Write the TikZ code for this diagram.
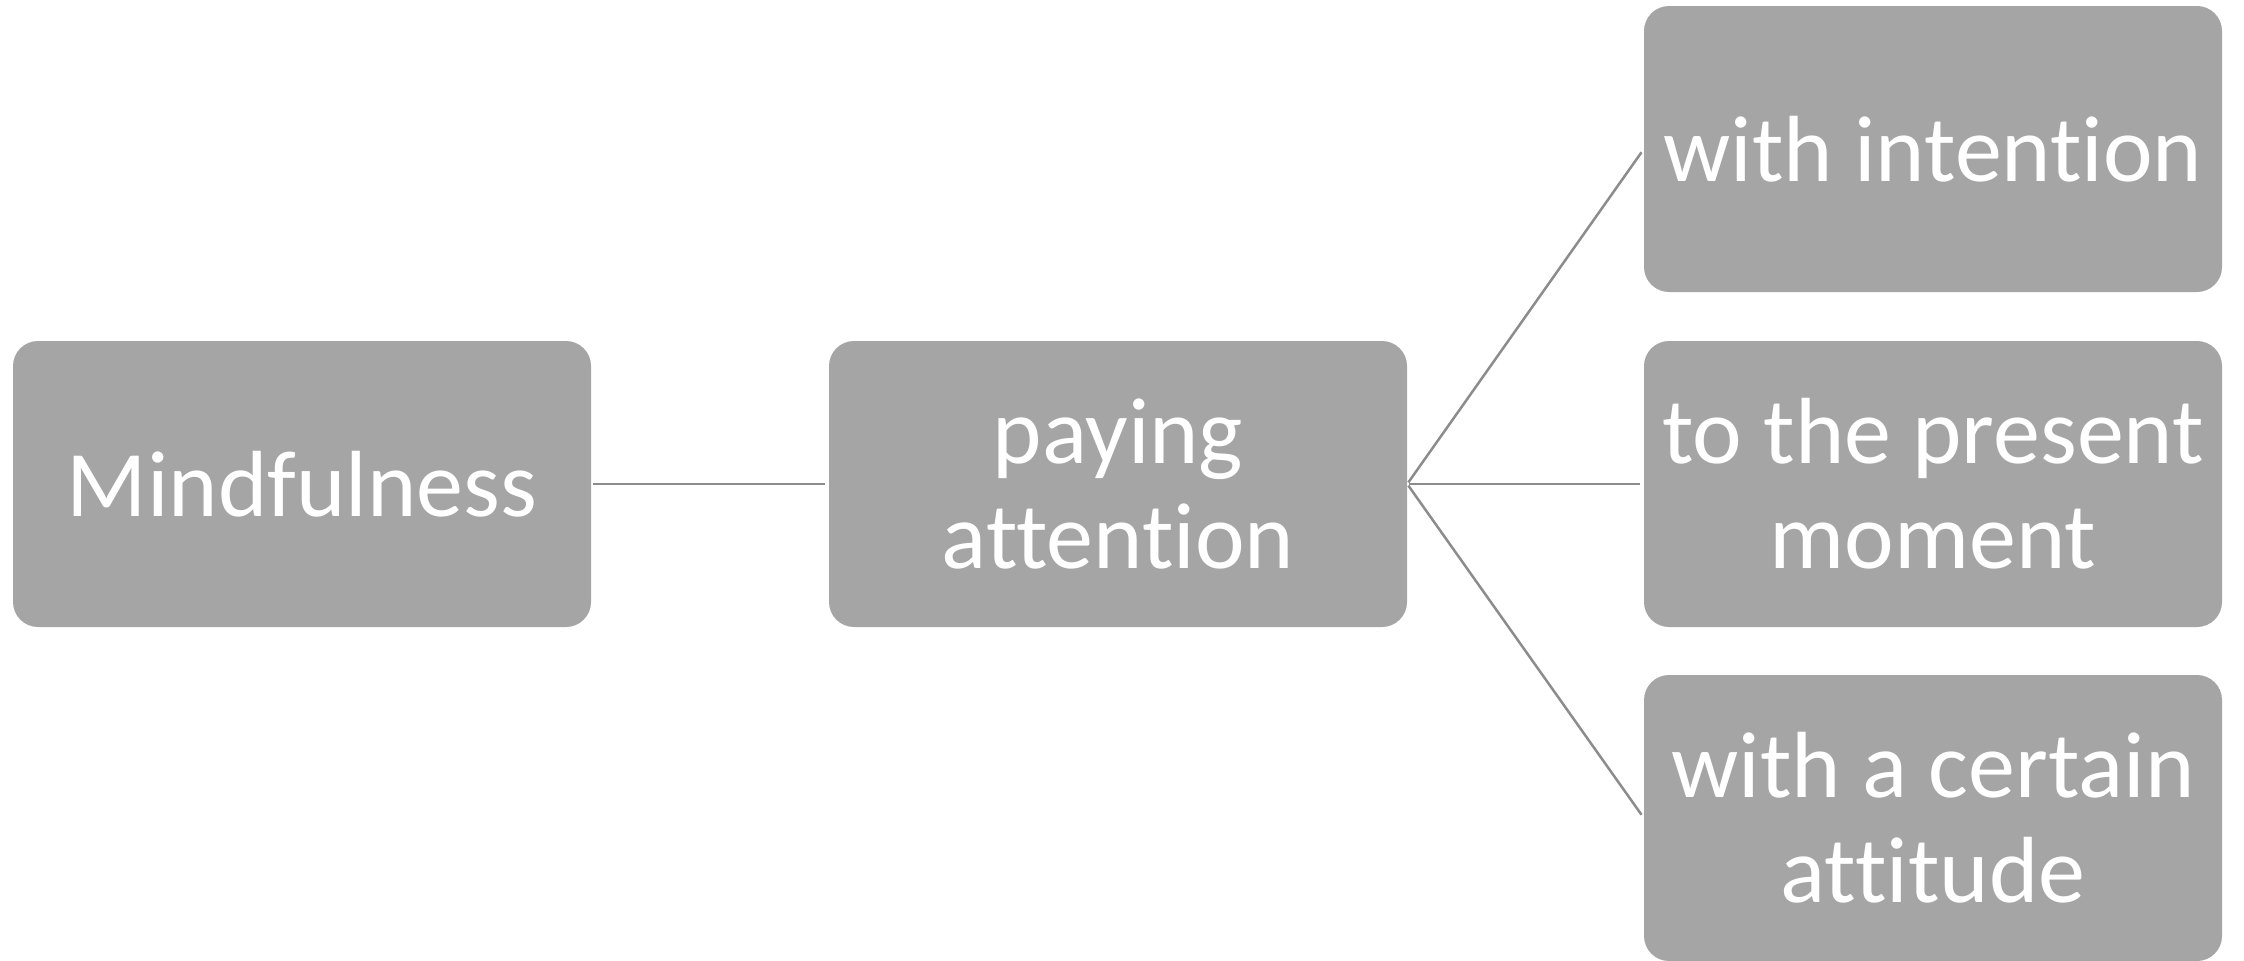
\documentclass[tikz,border=0pt]{standalone}
\usepackage{fontspec}
\setmainfont[Ligatures=NoCommon]{Carlito}
\definecolor{boxgray}{HTML}{A5A5A5}
\definecolor{linegray}{HTML}{8C8C8C}
\begin{document}
\begin{tikzpicture}[x=1pt,y=1pt,
  card/.style={draw=none,fill=boxgray,rounded corners=25pt,minimum width=578pt,minimum height=286pt,
    inner sep=0pt,align=center,text=white,font=\fontsize{94}{105}\selectfont},
  link/.style={draw=linegray,line width=2.5pt,shorten <=2pt,shorten >=4pt}]
\useasboundingbox (0,0) rectangle (2244,-961);
\node[card] (M) at (302,-484) {Mindfulness};
\node[card] (P) at (1118,-484) {paying\\attention};
\node[card] (T) at (1933,-149) {with intention};
\node[card] (C) at (1933,-484) {to the present\\moment};
\node[card] (B) at (1933,-818) {with a certain\\attitude};
\draw[link] (M.east) -- (P.west);
\draw[link] (P.east) -- (T.west);
\draw[link] (P.east) -- (C.west);
\draw[link] (P.east) -- (B.west);
\end{tikzpicture}
\end{document}
